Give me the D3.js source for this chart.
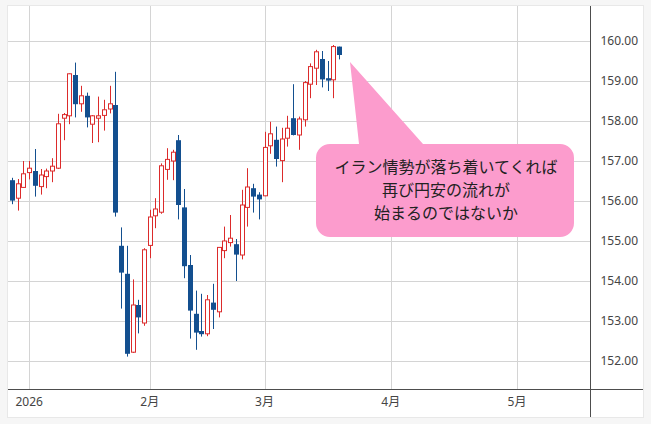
<!DOCTYPE html>
<html><head><meta charset="utf-8">
<script src="https://cdn.jsdelivr.net/npm/d3@7"></script>
<style>html,body{margin:0;padding:0;background:#f6f6f6;} svg{display:block}</style>
</head><body>
<svg id="c" width="651" height="424"></svg>
<script>
// ---- data ----
const dates = [
 "2025-12-29","2025-12-30","2025-12-31",
 "2026-01-02","2026-01-05","2026-01-06","2026-01-07","2026-01-08","2026-01-09",
 "2026-01-12","2026-01-13","2026-01-14","2026-01-15","2026-01-16",
 "2026-01-19","2026-01-20","2026-01-21","2026-01-22","2026-01-23",
 "2026-01-26","2026-01-27","2026-01-28","2026-01-29","2026-01-30",
 "2026-02-02","2026-02-03","2026-02-04","2026-02-05","2026-02-06",
 "2026-02-09","2026-02-10","2026-02-11","2026-02-12","2026-02-13",
 "2026-02-16","2026-02-17","2026-02-18","2026-02-19","2026-02-20",
 "2026-02-23","2026-02-24","2026-02-25","2026-02-26","2026-02-27",
 "2026-03-02","2026-03-03","2026-03-04","2026-03-05","2026-03-06",
 "2026-03-09","2026-03-10","2026-03-11","2026-03-12","2026-03-13",
 "2026-03-16","2026-03-17","2026-03-18","2026-03-19"
];
const openV  = [156.52,156.07,156.34,156.71,156.75,156.36,156.61,156.75,156.82,158.07,
                158.13,159.15,158.43,158.63,157.92,158.07,158.14,158.30,158.40,154.88,
                154.18,152.22,153.40,152.95,154.89,155.63,155.72,156.79,157.00,157.52,
                155.84,154.40,153.18,152.75,152.68,153.46,153.23,154.76,154.96,154.92,
                154.65,155.84,156.32,156.16,156.13,157.38,157.53,157.01,157.57,158.07,
                157.65,158.03,158.92,159.32,159.55,159.07,159.03,159.86];
const highV  = [156.58,156.55,157.00,157.00,157.30,156.80,156.81,157.07,158.18,158.20,
                159.19,159.46,158.88,158.71,158.15,158.61,158.53,158.88,159.23,155.34,
                154.88,154.04,153.53,154.82,155.78,156.07,156.94,157.32,157.28,157.65,
                156.30,154.65,153.76,153.68,153.65,153.93,154.84,155.36,155.65,155.05,
                156.28,156.82,156.43,156.22,157.73,157.98,157.86,157.83,158.13,158.92,
                158.11,159.00,159.44,159.78,159.75,159.50,159.90,159.86];
const lowV   = [155.92,155.76,156.33,156.54,156.11,156.16,156.32,156.47,156.80,157.52,
                157.92,158.09,158.23,157.84,157.45,157.47,157.76,158.19,155.61,153.31,
                152.11,152.20,152.69,152.88,154.57,155.32,155.68,156.53,156.52,155.54,
                154.07,152.56,152.28,152.61,152.62,152.80,153.09,154.57,154.86,154.00,
                154.54,155.36,155.71,155.54,156.12,157.18,156.86,156.47,157.36,157.64,
                157.28,157.86,158.57,158.90,158.84,158.75,158.57,159.54];
const closeV = [156.01,156.43,156.68,156.82,156.38,156.65,156.75,156.87,157.93,158.16,
                159.18,158.42,158.63,158.09,158.13,158.13,158.28,158.43,155.71,154.21,
                152.18,153.40,153.09,154.78,155.60,155.80,156.88,157.04,157.22,155.90,
                154.37,153.26,152.71,152.67,153.53,153.28,154.84,155.00,155.07,154.66,
                155.90,156.35,156.11,156.04,157.34,157.68,157.05,157.55,157.82,157.65,
                158.05,158.96,159.36,159.73,159.04,159.01,159.86,159.65];
const monthTickDates  = ["2026-01-02","2026-02-02","2026-03-02","2026-04-01","2026-05-01"];
const monthTickLabels = ["2026","2月","3月","4月","5月"];
const priceTicks = [152,153,154,155,156,157,158,159,160];
const holidays = ["2026-01-01"];
const calloutLines = ["イラン情勢が落ち着いてくれば","再び円安の流れが","始まるのではないか"];

// ---- layout ----
const svg = d3.select("#c");
const frame = {l:8, t:6, r:643, b:417};
const plot = {l:8, t:6, r:590.5, b:389.5};
const UP = "#dc2b2b", DOWN = "#134f8f", GRID = "#d4d4d4", AXIS = "#4d4d4d", TXT = "#444";

const parse = d3.timeParse("%Y-%m-%d"), fmt = d3.timeFormat("%Y-%m-%d");
const calendar = d3.timeDay.range(parse("2025-12-29"), parse("2026-06-01"))
  .filter(d => d.getDay() % 6 !== 0 && !holidays.includes(fmt(d))).map(fmt);
const idx = s => calendar.indexOf(s);

const x = d3.scaleLinear().domain([-0.7, 100.8]).range([plot.l, plot.r]);
const y = d3.scaleLinear().domain([151.2875, 160.875]).range([plot.b, plot.t]);
const px = v => Math.round(v) + 0.5;

svg.append("rect").attr("x", frame.l-0.5).attr("y", frame.t-0.5)
  .attr("width", frame.r-frame.l+1).attr("height", frame.b-frame.t+1)
  .attr("fill", "#fff").attr("stroke", "#e8e8e8");

// grid
const g = svg.append("g");
g.selectAll("line.h").data(priceTicks).join("line")
  .attr("x1", plot.l).attr("x2", plot.r).attr("y1", d => px(y(d))).attr("y2", d => px(y(d)))
  .attr("stroke", GRID).attr("stroke-width", 1);
g.selectAll("line.v").data(monthTickDates).join("line")
  .attr("x1", d => px(x(idx(d)))).attr("x2", d => px(x(idx(d))))
  .attr("y1", plot.t).attr("y2", plot.b)
  .attr("stroke", GRID).attr("stroke-width", 1);

// axes lines
svg.append("line").attr("x1", plot.r).attr("x2", plot.r).attr("y1", frame.t).attr("y2", frame.b)
  .attr("stroke", AXIS).attr("stroke-width", 1);
svg.append("line").attr("x1", frame.l).attr("x2", frame.r).attr("y1", plot.b).attr("y2", plot.b)
  .attr("stroke", AXIS).attr("stroke-width", 1);

// y axis labels
const ya = svg.append("g").attr("transform", `translate(${plot.r},0)`)
  .call(d3.axisRight(y).tickValues(priceTicks).tickFormat(d3.format(".2f")).tickSize(0).tickPadding(10));
ya.select(".domain").remove();
ya.selectAll("text").attr("font-family", "'Noto Sans', sans-serif").attr("font-size", 12).attr("fill", TXT);

// x axis labels
const xa = svg.append("g").attr("transform", `translate(0,${plot.b})`)
  .call(d3.axisBottom(d3.scalePoint().domain(monthTickLabels).range([0,1]))
    .tickSize(0).tickPadding(8));
xa.select(".domain").remove();
xa.selectAll(".tick").attr("transform", (d, i) => `translate(${x(idx(monthTickDates[i]))},0)`);
xa.selectAll("text").attr("font-family", "'Noto Sans', 'Noto Sans CJK JP', sans-serif").attr("font-size", 12).attr("fill", TXT);

// candles
const candles = dates.map((d, i) => ({d, o: openV[i], h: highV[i], l: lowV[i], c: closeV[i]}));
const cg = svg.append("g");
candles.forEach(k => {
  const cx = px(x(idx(k.d)));
  const up = k.c >= k.o;
  const col = up ? UP : DOWN;
  cg.append("line").attr("x1", cx).attr("x2", cx).attr("y1", y(k.h)).attr("y2", y(k.l))
    .attr("stroke", col).attr("stroke-width", 1);
  const yt = y(Math.max(k.o, k.c)), yb = y(Math.min(k.o, k.c));
  if (up) {
    cg.append("rect").attr("x", cx - 2).attr("y", yt).attr("width", 4).attr("height", Math.max(1, yb - yt))
      .attr("fill", "#fff").attr("stroke", col).attr("stroke-width", 1);
  } else {
    cg.append("rect").attr("x", cx - 2.5).attr("y", yt).attr("width", 5).attr("height", Math.max(1, yb - yt))
      .attr("fill", col);
  }
});

// callout
const box = {l:316, t:144, r:574, b:237, rad:14};
const tail = {a:359, tipX:350, tipY:62, b:423};
const p = d3.path();
p.moveTo(box.l + box.rad, box.t);
p.lineTo(tail.a, box.t);
p.lineTo(tail.tipX, tail.tipY);
p.lineTo(tail.b, box.t);
p.arcTo(box.r, box.t, box.r, box.b, box.rad);
p.arcTo(box.r, box.b, box.l, box.b, box.rad);
p.arcTo(box.l, box.b, box.l, box.t, box.rad);
p.arcTo(box.l, box.t, box.r, box.t, box.rad);
p.closePath();
svg.append("path").attr("d", p.toString()).attr("fill", "#fc9ccd");
svg.append("g").selectAll("text").data(calloutLines).join("text")
  .attr("x", (box.l + box.r) / 2 + 1).attr("y", (d, i) => 165.5 + i * 23)
  .attr("dominant-baseline", "central").attr("text-anchor", "middle")
  .attr("font-family", "'Noto Sans CJK JP', sans-serif").attr("font-size", 16).attr("fill", "#222")
  .text(d => d);
</script>
</body></html>
